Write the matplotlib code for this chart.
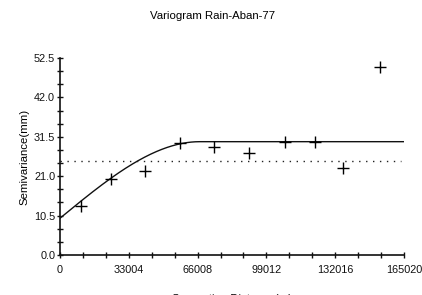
import matplotlib.pyplot as plt
import numpy as np
from matplotlib.ticker import MultipleLocator

plt.rcParams['font.family'] = ['Liberation Sans', 'DejaVu Sans']

# experimental semivariogram (lag distance, semivariance)
lag = [10074, 24466, 40776, 57566, 73732, 90810, 107935, 122470, 135900, 153500]
semivar = [13.1, 20.2, 22.3, 29.9, 28.8, 27.3, 30.2, 30.0, 23.2, 50.1]

# fitted spherical model
nugget = 9.8
sill = 30.2
vrange = 67000
variance = 25.0  # dotted line

x_max = 165020
x_ticks = [0, 33004, 66008, 99012, 132016, 165020]
y_ticks = [0.0, 10.5, 21.0, 31.5, 42.0, 52.5]


def spherical(h):
    r = np.clip(h / vrange, 0, 1)
    return nugget + (sill - nugget) * (1.5 * r - 0.5 * r ** 3)


fig = plt.figure(figsize=(4.22, 2.95), dpi=100)
ax = fig.add_axes([60/422, 1-255/295, 344/422, 197/295])

h = np.linspace(0, x_max, 400)
ax.plot(h, spherical(h), color='#111111', lw=1.0)
ax.plot([0, 163500], [variance, variance], color='#222222', lw=1.0,
        linestyle=(0, (1, 4)))
ax.plot(lag, semivar, '+', color='black', markersize=8.5, mew=1.0)

ax.set_xlim(0, x_max)
ax.set_ylim(0, 52.5)
ax.set_xticks(x_ticks)
ax.set_xticklabels([str(t) for t in x_ticks])
ax.set_yticks(y_ticks)
ax.set_yticklabels(['%.1f' % t for t in y_ticks])
ax.xaxis.set_minor_locator(MultipleLocator(x_max / 15))
ax.yaxis.set_minor_locator(MultipleLocator(3.5))
ax.tick_params(which='both', direction='inout', length=5, width=1.0,
               labelsize=7.8, colors='#111111')
ax.tick_params(axis='x', pad=5)
ax.tick_params(axis='y', pad=1)
for s in ['top', 'right']:
    ax.spines[s].set_visible(False)
for s in ['left', 'bottom']:
    ax.spines[s].set_linewidth(1.2)
    ax.spines[s].set_color('#111111')

ax.set_ylabel('Semivariance(mm)', fontsize=8.2, labelpad=3)
fig.text(232/422, 1-299/295, 'Separation Distance(m)', fontsize=8.2,
         ha='center', va='center')
fig.text(213/422, 1-16/295, 'Variogram Rain-Aban-77', fontsize=8.2,
         ha='center', va='center')

fig.savefig('out.png', dpi=100)
